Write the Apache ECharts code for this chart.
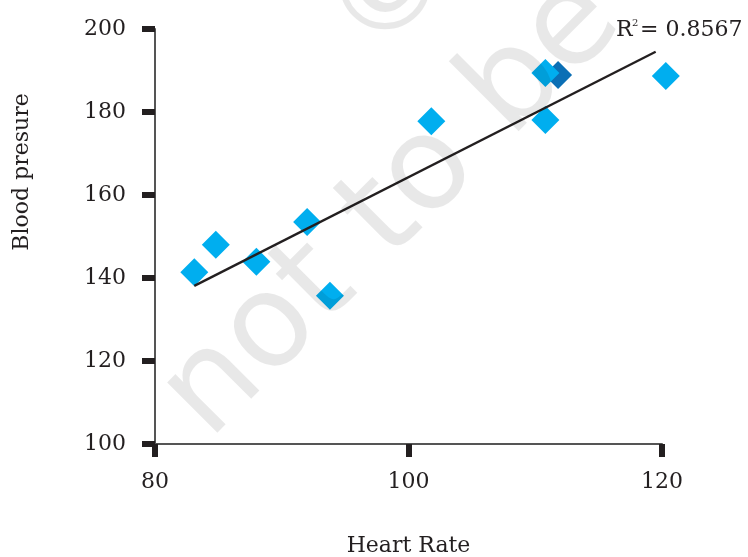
<!DOCTYPE html>
<html>
<head>
<meta charset="utf-8">
<script src="https://cdn.jsdelivr.net/npm/echarts@6/dist/echarts.min.js"></script>
<style>html,body{margin:0;padding:0;background:#fff;}#c{width:748px;height:557px;}</style>
</head>
<body>
<div id="c"></div>
<script>
// Data
const heartRate = [83.1, 84.8, 88.0, 92.0, 93.8, 101.8, 110.8, 110.8, 120.3];
const bloodPressure = [141.4, 148.0, 143.9, 153.5, 135.7, 177.8, 189.4, 178.1, 188.7];
const darkHeartRate = [111.8];
const darkBloodPressure = [188.9];
const trendX = [83.1, 119.5];
const trendY = [138.1, 194.5];
const xTicks = [80, 100, 120];
const yTicks = [100, 120, 140, 160, 180, 200];
const rSquared = '0.8567';

const pts = heartRate.map((x, i) => [x, bloodPressure[i]]);
const darkPts = darkHeartRate.map((x, i) => [x, darkBloodPressure[i]]);
const trend = trendX.map((x, i) => [x, trendY[i]]);

const serif = 'DejaVu Serif';
const ink = '#231f20';
const wm = 'rgba(0,0,0,0.09)';

const chart = echarts.init(document.getElementById('c'), null, {renderer: 'canvas'});
chart.setOption({
  animation: false,
  backgroundColor: '#fff',
  grid: {left: 155, right: 86, top: 29, bottom: 113, containLabel: false, outerBoundsMode: 'none'},
  xAxis: {
    type: 'value', min: xTicks[0], max: xTicks[xTicks.length - 1], interval: 20,
    name: 'Heart Rate', nameLocation: 'middle', nameGap: 91,
    nameTextStyle: {fontFamily: serif, fontSize: 22, color: ink},
    axisLine: {lineStyle: {color: '#555', width: 2}},
    axisTick: {length: 13, lineStyle: {color: ink, width: 6}},
    axisLabel: {fontFamily: serif, fontSize: 22, color: ink, margin: 27},
    splitLine: {show: false}
  },
  yAxis: {
    type: 'value', min: yTicks[0], max: yTicks[yTicks.length - 1], interval: 20,
    axisLine: {lineStyle: {color: '#555', width: 2}},
    axisTick: {length: 13, lineStyle: {color: ink, width: 6}},
    axisLabel: {fontFamily: serif, fontSize: 22, color: ink, margin: 29},
    splitLine: {show: false}
  },
  series: [
    {type: 'scatter', data: darkPts, symbol: 'diamond', symbolSize: 28, clip: false,
     itemStyle: {color: '#0B6FB5', opacity: 1}, z: 2},
    {type: 'scatter', data: pts, symbol: 'diamond', symbolSize: 28, clip: false,
     itemStyle: {color: '#00AEEF', opacity: 1}, z: 3},
    {type: 'line', data: trend, symbol: 'none', clip: false,
     lineStyle: {color: ink, width: 2.3}, z: 4}
  ],
  graphic: [
    {type: 'text', x: 22, y: 172, rotation: Math.PI / 2,
     style: {text: 'Blood presure', fontFamily: serif, fontSize: 22, fill: ink,
             textAlign: 'center', textVerticalAlign: 'middle'}},
    {type: 'text', x: 616, y: 41,
     style: {text: 'R', fontFamily: serif, fontSize: 22, fill: ink, textAlign: 'left', textVerticalAlign: 'bottom'}},
    {type: 'text', x: 632, y: 28,
     style: {text: '2', fontFamily: serif, fontSize: 10, fill: ink, textAlign: 'left', textVerticalAlign: 'bottom'}},
    {type: 'text', x: 640, y: 41,
     style: {text: '= ' + rSquared, fontFamily: serif, fontSize: 22, fill: ink, textAlign: 'left', textVerticalAlign: 'bottom'}},
    {type: 'text', x: 185, y: 417, rotation: Math.PI / 4, z: 100, silent: true,
     style: {text: 'not to be republished', fontFamily: 'DejaVu Sans', fontSize: 130, fill: wm,
             textAlign: 'left', textVerticalAlign: 'middle'}},
    {type: 'text', x: 394, y: -7, rotation: Math.PI / 4, z: 100, silent: true,
     style: {text: '\u00A9', fontFamily: 'DejaVu Sans', fontSize: 125, fill: wm,
             textAlign: 'center', textVerticalAlign: 'middle'}}
  ]
});
</script>
</body>
</html>
